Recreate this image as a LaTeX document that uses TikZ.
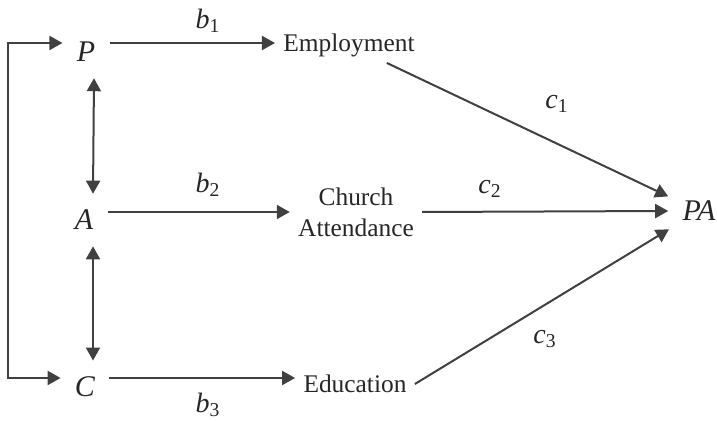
\documentclass[tikz,border=0pt]{standalone}
\usepackage{fontspec}
\setmainfont{Liberation Serif}
\usepackage{xcolor}
\usepackage{tikz}
\usetikzlibrary{arrows.meta,positioning,calc}
\definecolor{ink}{HTML}{262626}
\definecolor{wire}{HTML}{404040}
\tikzset{
  every node/.style={font=\fontsize{12.7}{15.5}\selectfont,text=ink},
  var/.style={inner xsep=7pt,inner ysep=8pt,font=\fontsize{15}{18}\selectfont\itshape},
  med/.style={align=center,inner xsep=4pt,inner ysep=3pt},
  outc/.style={inner xsep=7pt,inner ysep=4pt,font=\fontsize{15}{18}\selectfont\itshape},
  coef/.style={inner sep=1pt,font=\fontsize{14}{16}\selectfont},
  link/.style={-{Triangle[length=6.5pt,width=7pt]},line width=1pt,draw=wire},
  both/.style={{Triangle[length=6.5pt,width=7pt]}-{Triangle[length=6.5pt,width=7pt]},line width=1pt,draw=wire}
}
\newcommand{\coeff}[2]{\textit{#1}\textsubscript{#2}}

\begin{document}
\begin{tikzpicture}[x=0.5pt,y=-0.5pt]
  \useasboundingbox (0,0) rectangle (717,421);

  % predictors
  \node[var] (P) at (86,52) {P};
  \node[var] (A) at (84,220) {A};
  \node[var] (C) at (85,387) {C};

  % mediators and outcome
  \node[med] (emp) at (349,45) {Employment};
  \node[med] (church) at (356,212) {Church\\Attendance};
  \node[med] (edu) at (355,384) {Education};
  \node[outc] (PA) at (699,211) {PA};

  \draw[both] ([yshift=4.5pt]P.west) -- ++(-27pt,0) |- ([yshift=4.5pt]C.west);
  \draw[both] ([xshift=4pt]P.south) -- ([xshift=4.5pt]A.north);
  \draw[both] ([xshift=4.5pt]A.south) -- ([xshift=4pt]C.north);

  \draw[link] ([yshift=4.5pt]P.east) -- ([yshift=1pt]emp.west);
  \draw[link] ([yshift=4pt]A.east) -- (church.west);
  \draw[link] ([yshift=4.5pt]C.east) -- ([yshift=3pt]edu.west);

  \draw[link] (emp) -- (PA);
  \draw[link] (church.east) -- (PA.west);
  \draw[link] (edu.east) -- (PA);

  \node[coef] (b1) at (208,21) {\coeff{b}{1}};
  \node[coef] (b2) at (208,185) {\coeff{b}{2}};
  \node[coef] (b3) at (208,405) {\coeff{b}{3}};
  \node[coef] (c1) at (557,104) {\coeff{c}{1}};
  \node[coef] (c2) at (490,189) {\coeff{c}{2}};
  \node[coef] (c3) at (545,339) {\coeff{c}{3}};
\end{tikzpicture}
\end{document}
